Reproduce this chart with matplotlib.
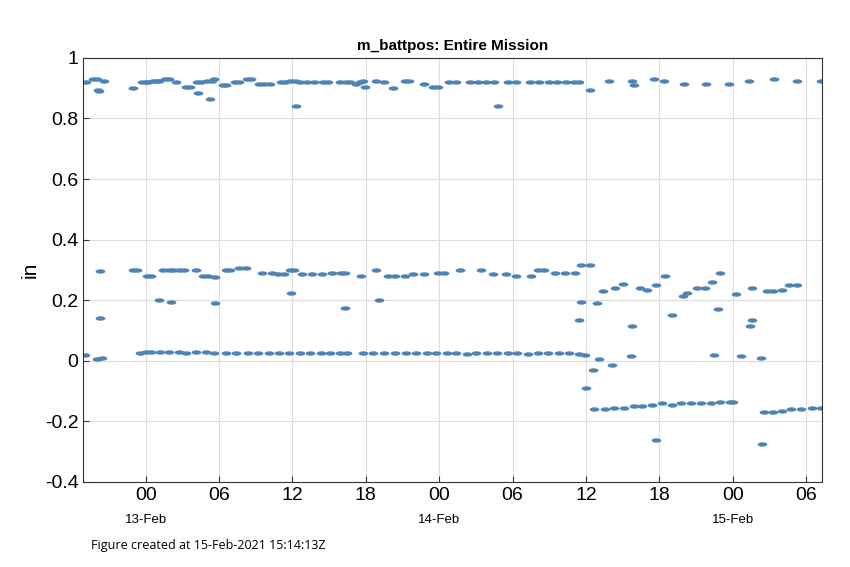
import matplotlib
matplotlib.use("Agg")
import matplotlib.pyplot as plt
import numpy as np
from matplotlib.path import Path

# hours relative to 13-Feb-2021 00:00
top_t = [-4.9,-4.3,-4.0,-3.9,-3.8,-3.4,-1.0,-0.3,0.0,0.2,0.6,0.9,1.1,1.6,1.9,2.5,3.3,3.6,4.2,4.5,4.3,5.0,5.4,5.6,5.3,
         6.3,6.6,7.3,7.6,8.3,8.6,9.3,9.7,10.2,11.1,11.4,11.8,12.2,12.3,12.6,13.2,13.8,14.5,14.9,15.9,16.4,16.7,17.2,
         17.5,17.8,17.9,18.8,19.5,20.2,21.2,21.5,22.8,23.5,23.9,24.8,25.4,26.5,27.2,27.8,28.5,28.8,29.6,30.3,31.4,
         32.2,33.0,33.6,34.4,35.0,35.4,36.3,37.9,39.8,39.9,41.6,42.4,44.0,45.8,47.7,49.3,51.4,53.3,55.2]
top_v = [.92,.93,.93,.895,.89,.925,.90,.92,.92,.92,.925,.925,.925,.93,.93,.92,.905,.905,.92,.92,.885,.925,.925,.93,.865,
         .91,.91,.92,.92,.93,.93,.915,.915,.915,.92,.92,.925,.925,.84,.92,.92,.92,.92,.92,.92,.92,.92,.915,
         .92,.925,.905,.925,.92,.90,.925,.925,.915,.905,.905,.92,.92,.92,.92,.92,.92,.84,.92,.92,.92,
         .92,.92,.92,.92,.92,.92,.895,.925,.925,.91,.93,.925,.915,.915,.915,.925,.93,.925,.925]

mid_t = [-3.7,-3.7,-1.0,-0.7,0.1,0.4,1.1,1.4,1.9,2.2,2.1,2.7,3.1,4.1,4.7,5.1,5.7,5.7,6.6,6.9,7.6,8.2,9.5,10.3,10.8,
         11.3,11.8,12.1,11.9,12.8,13.6,14.4,15.2,16.0,16.3,16.3,17.6,18.8,19.1,19.8,20.4,21.2,21.9,22.8,23.9,24.4,
         25.7,27.4,28.4,29.5,30.3,31.5,32.1,32.6,33.5,34.3,35.1,35.6,36.3,35.4,35.6,36.9,37.4,38.4,39.0,39.8,40.4,
         41.0,41.7,42.5,43.0,43.9,44.3,45.1,45.7,46.3,46.8,47.0,48.3,49.6,49.6,49.4,50.8,51.3,52.0,52.6,53.3]
mid_v = [.295,.14,.30,.30,.28,.28,.20,.30,.30,.30,.195,.30,.30,.30,.28,.28,.19,.275,.30,.30,.305,.305,.29,.29,.285,
         .285,.30,.30,.225,.285,.285,.285,.29,.29,.29,.175,.28,.30,.20,.28,.28,.28,.285,.285,.29,.29,
         .30,.30,.285,.285,.28,.28,.30,.30,.29,.29,.29,.315,.315,.135,.195,.19,.23,.24,.255,.115,.24,
         .235,.25,.28,.15,.215,.225,.24,.24,.26,.17,.29,.22,.24,.135,.115,.23,.23,.235,.25,.25]

low_t = [-5.0,-4.0,-3.6,-0.5,0.0,0.4,1.2,1.9,2.7,3.3,4.1,4.9,5.6,6.6,7.4,8.4,9.2,10.1,10.9,11.7,12.6,13.4,14.3,15.1,
         15.9,16.5,17.8,18.6,19.5,20.4,21.3,22.1,23.0,23.7,24.6,25.4,26.3,27.0,27.9,28.7,29.6,30.4,31.3,32.1,32.9,
         33.8,34.6,35.4,35.9,36.0,36.7,37.1,36.6,38.1,39.7,37.6,38.3,39.1,39.9,40.6,41.4,41.7,42.2,43.0,43.8,44.6,
         45.4,46.2,47.0,47.8,48.0,46.5,48.7,50.3,50.4,50.6,51.3,52.0,52.8,53.6,54.5,55.2]
low_v = [.02,.005,.01,.025,.03,.028,.03,.028,.028,.027,.028,.028,.027,.027,.025,.027,.026,.026,.025,.025,.026,.025,.027,.026,
         .025,.025,.026,.025,.025,.025,.026,.025,.026,.025,.025,.025,.024,.025,.025,.025,.025,.025,.024,.025,.026,
         .025,.025,.024,.02,-.09,-.16,.005,-.03,-.015,.015,-.16,-.155,-.155,-.15,-.15,-.145,-.26,-.14,-.145,-.14,-.14,
         -.14,-.14,-.135,-.135,-.135,.02,.015,.01,-.275,-.17,-.17,-.165,-.16,-.16,-.155,-.155]

tick_hours = [0, 6, 12, 18, 24, 30, 36, 42, 48, 54]
tick_labels = ["00", "06", "12", "18", "00", "06", "12", "18", "00", "06"]
date_labels = {0: "13-Feb", 24: "14-Feb", 48: "15-Feb"}

# stretched dot: the logged samples cluster into short dashes
ang = np.linspace(0, 2 * np.pi, 30)
dash = Path(np.column_stack([2.2 * np.cos(ang), np.sin(ang)]), closed=True)

plt.rcParams['font.family'] = ['Liberation Sans', 'DejaVu Sans']
fig = plt.figure(figsize=(8.5, 5.67), dpi=100)
ax = fig.add_axes([0.098, 0.15, 0.869, 0.748])
c = "#4e83b5"
for t, v in [(top_t, top_v), (mid_t, mid_v), (low_t, low_v)]:
    ax.plot(t, v, linestyle="none", marker=dash, color=c, markersize=7, markeredgewidth=0)

ax.set_xlim(-5.1, 55.3)
ax.set_ylim(-0.4, 1.0)
ax.set_yticks([-0.4, -0.2, 0, 0.2, 0.4, 0.6, 0.8, 1])
ax.set_yticklabels(["-0.4", "-0.2", "0", "0.2", "0.4", "0.6", "0.8", "1"])
ax.set_xticks(tick_hours)
ax.set_xticklabels(tick_labels)
ax.tick_params(labelsize=14, direction="in", length=4, color="#333333")
ax.grid(True, color="#dddddd", linewidth=0.8)
ax.set_axisbelow(True)
for s in ax.spines.values():
    s.set_color("#333333")
    s.set_linewidth(0.8)
ax.set_ylabel("in", fontsize=15)
ax.set_title("m_battpos: Entire Mission", fontsize=11, fontweight="bold")
for h, lab in date_labels.items():
    ax.text(h, -0.075, lab, transform=ax.get_xaxis_transform(), ha="center", va="top", fontsize=9.5)
fig.text(0.107, 0.032, "Figure created at 15-Feb-2021 15:14:13Z", fontsize=9, family="Open Sans")

fig.savefig("out.png", dpi=100)
